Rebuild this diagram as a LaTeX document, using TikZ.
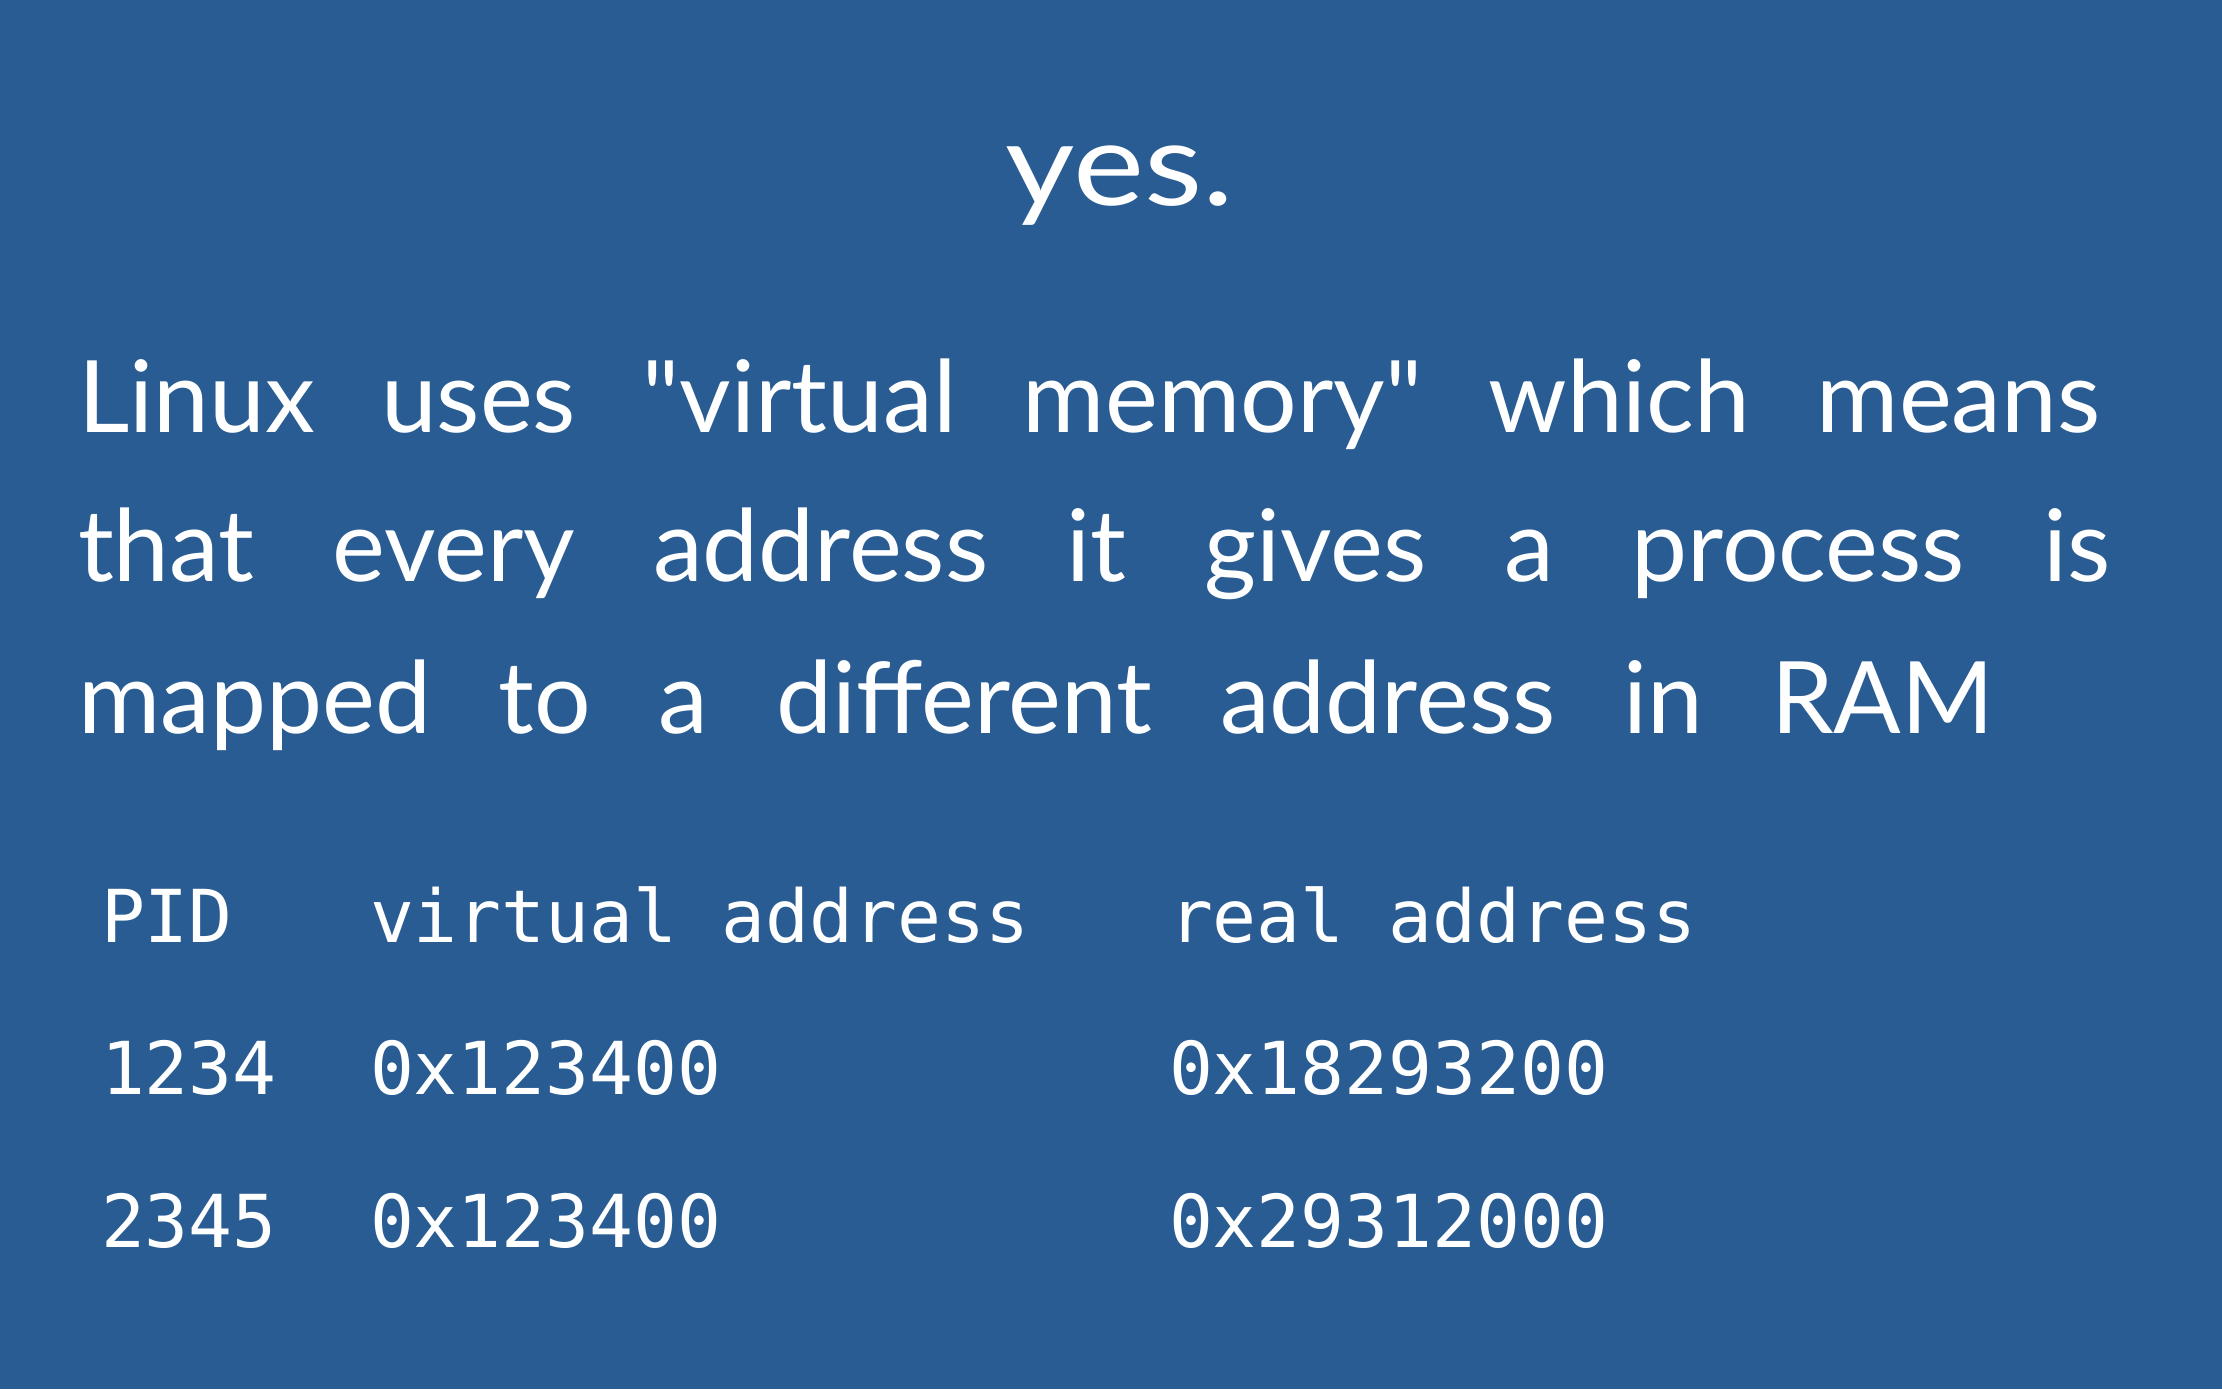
\documentclass[tikz,border=0pt]{standalone}
\usepackage{fontspec}
\setmainfont{Lato}
\newfontfamily\monofont{DejaVu Sans Mono}
\definecolor{bgblue}{HTML}{295C92}
\begin{document}
\begin{tikzpicture}[x=0.5pt,y=-0.5pt,
  hand/.style={inner sep=0pt,outer sep=0pt,text=white,anchor=base west,font=\fontsize{50}{60}\selectfont},
  mono/.style={inner sep=0pt,outer sep=0pt,text=white,anchor=base west,font=\monofont\fontsize{36.5}{44}\selectfont}]
\fill[bgblue] (0,0) rectangle (2222,1389);
\useasboundingbox (0,0) rectangle (2222,1389);
\node[inner sep=0pt,text=white,anchor=base,xscale=1.16,font=\fontsize{58}{70}\selectfont] (yes) at (1120,205) {yes.};
\node[hand] (l1) at (78,432) {\makebox[1011pt][s]{Linux uses \textquotedbl virtual memory\textquotedbl{} which means}};
\node[hand] (l2) at (78,581) {\makebox[1016pt][s]{that every address it gives a process is}};
\node[hand] (l3) at (78,733) {\makebox[958pt][s]{mapped to a different address in RAM}};
\node[mono] (h1) at (101,942) {PID};
\node[mono] (h2) at (370,942) {virtual address};
\node[mono] (h3) at (1169,942) {real address};
\node[mono] (a1) at (101,1094) {1234};
\node[mono] (a2) at (370,1094) {0x123400};
\node[mono] (a3) at (1169,1094) {0x18293200};
\node[mono] (b1) at (101,1247) {2345};
\node[mono] (b2) at (370,1247) {0x123400};
\node[mono] (b3) at (1169,1247) {0x29312000};
\end{tikzpicture}
\end{document}
